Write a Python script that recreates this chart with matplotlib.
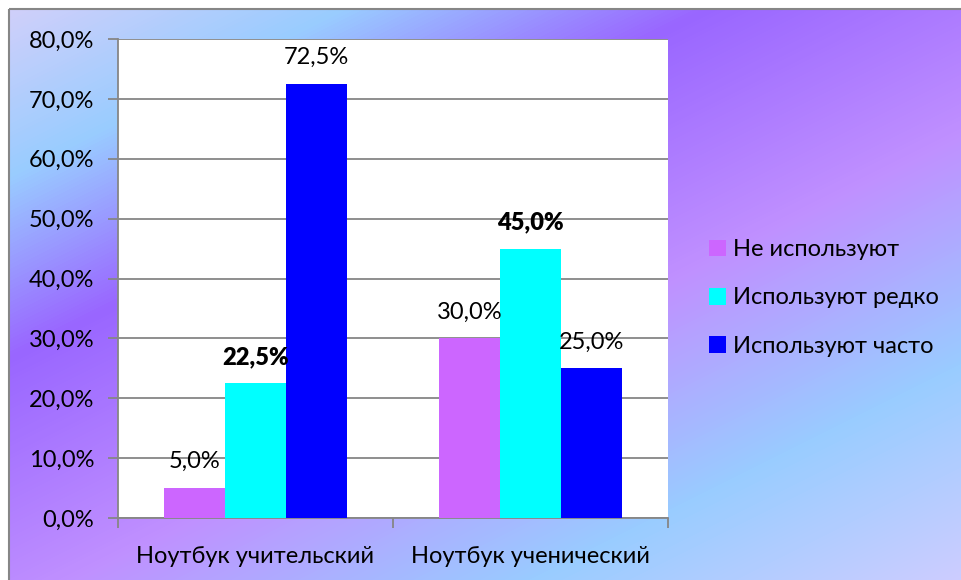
import numpy as np
import matplotlib.pyplot as plt
from matplotlib.colors import LinearSegmentedColormap
from matplotlib.patches import Rectangle

categories = ["Ноутбук учительский", "Ноутбук ученический"]
series_names = ["Не используют", "Используют редко", "Используют часто"]
values = [
    [5.0, 30.0],   # Не используют
    [22.5, 45.0],  # Используют редко
    [72.5, 25.0],  # Используют часто
]
bold_labels = [False, True, False]
colors = ["#cc66ff", "#00ffff", "#0000ff"]
yticks = [0, 10, 20, 30, 40, 50, 60, 70, 80]

plt.rcParams['font.family'] = ['Lato', 'DejaVu Sans']
fs = 17

W, H = 961, 580
fig = plt.figure(figsize=(W / 100, H / 100), dpi=100)
fig.patch.set_facecolor("white")

# background gradient of the chart area
bg = fig.add_axes([0, 0, 1, 1], zorder=0)
bg.set_axis_off()
xx, yy = np.meshgrid(np.arange(W), np.arange(H))
t = (xx + 2.0 * yy) / (W + 2.0 * H)
grad = LinearSegmentedColormap.from_list("bg", [
    (0.0, "#d4d0fa"), (0.17, "#99ccff"), (0.34, "#9966ff"),
    (0.58, "#c090ff"), (0.80, "#99ccff"), (1.0, "#ccccff")])
bg.imshow(t, cmap=grad, extent=(0, W, H, 0), aspect="auto")
bg.set_xlim(0, W)
bg.set_ylim(H, 0)
bg.add_patch(Rectangle((0, 0), W, 8, color="white", zorder=2))
bg.add_patch(Rectangle((0, 0), 8, H, color="white", zorder=2))
bg.add_patch(Rectangle((8.5, 8.5), W + 10, H + 10, fill=False,
                       edgecolor="#868686", lw=1.5, zorder=3))

ax = fig.add_axes([118 / W, 1 - 518 / H, 550 / W, 479 / H], zorder=1)
ax.set_facecolor("white")

x = np.arange(len(categories))
bw = 0.222
for i, (name, vals) in enumerate(zip(series_names, values)):
    pos = x + (i - 1) * bw
    ax.bar(pos, vals, bw, color=colors[i], label=name, zorder=3)
    for p, v in zip(pos, vals):
        ax.annotate(f"{v:.1f}%".replace(".", ","), (p, v), xytext=(0, 19),
                    textcoords="offset points", ha="center", va="center",
                    fontsize=fs, fontweight="heavy" if bold_labels[i] else "normal",
                    zorder=4)

ax.set_xlim(-0.5, 1.5)
ax.set_ylim(0, 80)
ax.set_yticks(yticks)
ax.set_yticklabels([f"{v:.1f}%".replace(".", ",") for v in yticks], fontsize=fs)
ax.yaxis.grid(True, color="#868686", lw=1.3, zorder=0)
ax.tick_params(axis="y", length=7, width=1.3, color="#868686", pad=10)

ax.set_xticks(x)
ax.set_xticklabels(categories, fontsize=fs)
ax.set_xticks([-0.5, 0.5, 1.5], minor=True)
ax.tick_params(axis="x", which="major", length=0, pad=20)
ax.tick_params(axis="x", which="minor", length=7, width=1.3, color="#868686")

for s in ["top", "right"]:
    ax.spines[s].set_visible(False)
for s in ["left", "bottom"]:
    ax.spines[s].set_color("#868686")
    ax.spines[s].set_linewidth(1.3)

fig.legend(loc="center left", bbox_to_anchor=(709 / W, 1 - 298 / H),
           frameon=False, fontsize=fs, handlelength=0.7, handleheight=0.7,
           handletextpad=0.3, labelspacing=1.15, borderpad=0, borderaxespad=0)

fig.savefig("out.png", dpi=100)
